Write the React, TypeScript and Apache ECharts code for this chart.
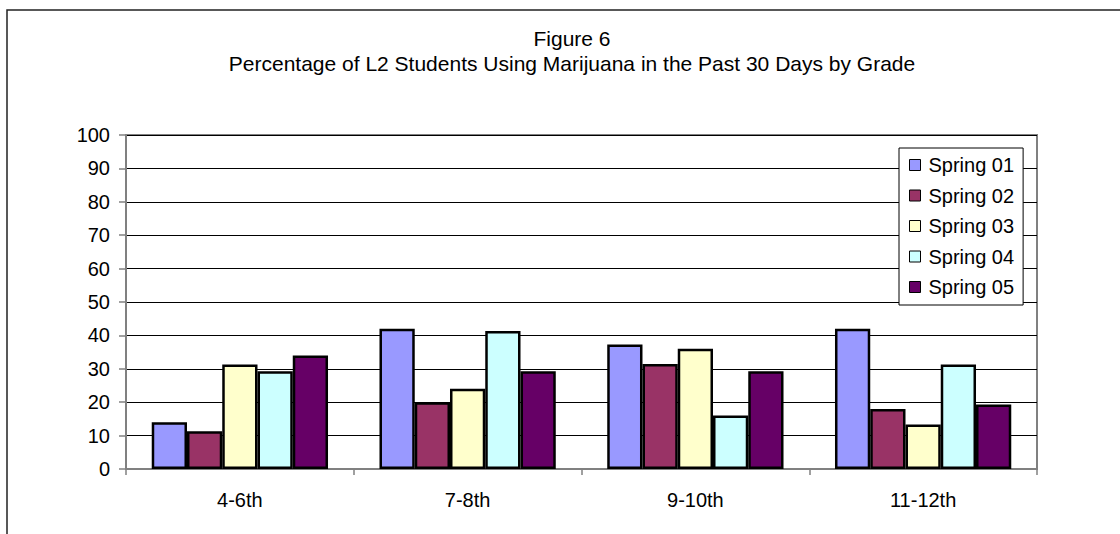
import React, { useEffect, useRef } from "react";
import * as echarts from "echarts";

const categories = ["4-6th", "7-8th", "9-10th", "11-12th"];
const seriesNames = ["Spring 01", "Spring 02", "Spring 03", "Spring 04", "Spring 05"];
const spring01 = [14, 42, 37.3, 42];
const spring02 = [11.3, 20, 31.4, 18];
const spring03 = [31.3, 24, 36, 13.3];
const spring04 = [29.3, 41.3, 16, 31.3];
const spring05 = [34, 29.3, 29.3, 19.3];
const seriesValues = [spring01, spring02, spring03, spring04, spring05];
const seriesColors = ["#9999FF", "#993366", "#FFFFCC", "#CCFFFF", "#660066"];
const titleLine1 = "Figure 6";
const titleLine2 = "Percentage of L2 Students Using Marijuana in the Past 30 Days by Grade";

const FONT = "'Liberation Sans', Arial, sans-serif";

export default function App() {
  const ref = useRef<HTMLDivElement>(null);
  useEffect(() => {
    if (!ref.current) return;
    const chart = echarts.init(ref.current, undefined, { renderer: "svg" });
    chart.setOption({
      animation: false,
      backgroundColor: "#ffffff",
      textStyle: { fontFamily: FONT },
      graphic: [
        {
          type: "rect",
          shape: { x: 7, y: 10, width: 1200, height: 600 },
          style: { fill: "none", stroke: "#222", lineWidth: 1.5 },
          z: 0,
        },
        {
          type: "text",
          x: 572,
          y: 38,
          style: {
            text: titleLine1,
            align: "center",
            verticalAlign: "middle",
            fontFamily: FONT,
            fontSize: 21,
            fill: "#000",
          },
        },
        {
          type: "text",
          x: 572,
          y: 63,
          style: {
            text: titleLine2,
            align: "center",
            verticalAlign: "middle",
            fontFamily: FONT,
            fontSize: 21,
            fill: "#000",
          },
        },
      ],
      legend: {
        orient: "vertical",
        left: 899,
        top: 148,
        data: seriesNames,
        backgroundColor: "#ffffff",
        borderColor: "#000",
        borderWidth: 1,
        padding: [7, 9, 8, 10],
        itemGap: 10.5,
        itemWidth: 11,
        itemHeight: 11,
        icon: "rect",
        itemStyle: { borderColor: "#000", borderWidth: 1 },
        textStyle: { fontFamily: FONT, fontSize: 20, color: "#000", padding: [0, 0, 0, 3] },
        z: 10,
      },
      grid: {
        left: 126,
        top: 135,
        right: 83,
        bottom: 65,
        show: true,
        borderColor: "#808080",
        borderWidth: 2,
        backgroundColor: "#ffffff",
      },
      xAxis: {
        type: "category",
        data: categories,
        axisLine: { lineStyle: { color: "#808080", width: 2 } },
        axisTick: { show: true, length: 6, alignWithLabel: false, lineStyle: { color: "#808080", width: 1.5 } },
        axisLabel: { fontFamily: FONT, fontSize: 20, color: "#000", margin: 21 },
      },
      yAxis: {
        type: "value",
        min: 0,
        max: 100,
        interval: 10,
        axisLine: { show: true, lineStyle: { color: "#808080", width: 2 } },
        axisTick: { show: true, length: 7, lineStyle: { color: "#808080", width: 1.5 } },
        axisLabel: { fontFamily: FONT, fontSize: 20, color: "#000", margin: 16 },
        splitLine: { show: true, lineStyle: { color: "#000", width: 1 } },
      },
      series: seriesNames.map((name, i) => ({
        name,
        type: "bar",
        data: seriesValues[i],
        barGap: "0%",
        barCategoryGap: "22.6%",
        itemStyle: { color: seriesColors[i], borderColor: "#000", borderWidth: 2.5 },
      })),
    });
    return () => chart.dispose();
  }, []);
  return (
    <div
      ref={ref}
      style={{ position: "fixed", left: 0, top: 0, width: 1120, height: 534, background: "#fff" }}
    />
  );
}
